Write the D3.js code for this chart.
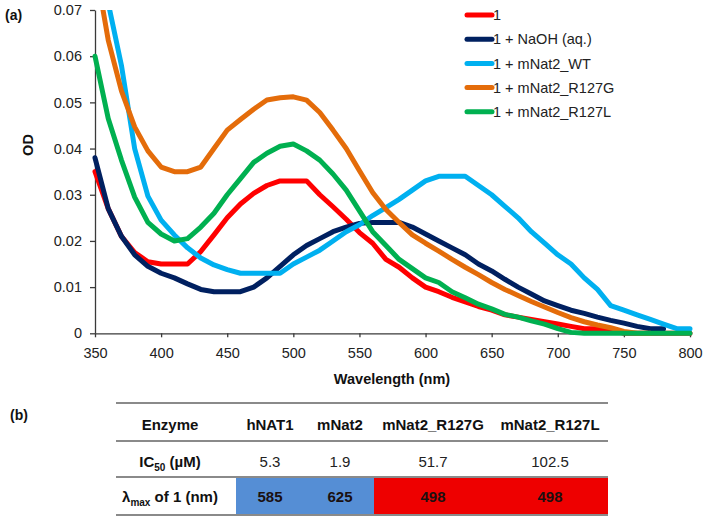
<!DOCTYPE html>
<html><head><meta charset="utf-8">
<script src="https://cdn.jsdelivr.net/npm/d3@7/dist/d3.min.js"></script>
<style>
html,body{margin:0;padding:0;background:#fff;}
svg{display:block;font-family:Arial,"Liberation Sans",sans-serif;}
</style></head>
<body>
<svg id="chart" width="706" height="521"></svg>
<script>
// ---------- data ----------
const wavelengths = [350,360,370,380,390,400,410,420,430,440,450,460,470,480,490,500,510,520,530,540,550,560,570,580,590,600,610,620,630,640,650,660,670,680,690,700,710,720,730,740,750,760,770,780,790,800];
const seriesNames = ["1","1 + NaOH (aq.)","1 + mNat2_WT","1 + mNat2_R127G","1 + mNat2_R127L"];
const seriesColors = ["#ff0000","#002060","#00b0f0","#e46c0a","#00b050"];
const odCompound = [0.035,0.027,0.021,0.0175,0.0155,0.015,0.015,0.015,0.0177,0.0213,0.025,0.028,0.0303,0.032,0.033,0.033,0.033,0.030,0.0274,0.0247,0.0218,0.0195,0.016,0.0143,0.012,0.010,0.009,0.0078,0.0068,0.0058,0.005,0.004,0.0035,0.003,0.0025,0.002,0.0015,0.001,0.001,0.001,0,0,0,0,0,0];
const odNaOH = [0.038,0.027,0.021,0.017,0.0145,0.013,0.012,0.0107,0.0095,0.009,0.009,0.009,0.010,0.012,0.0145,0.017,0.019,0.0205,0.022,0.023,0.0238,0.024,0.024,0.024,0.023,0.0215,0.020,0.0185,0.017,0.015,0.0135,0.0117,0.010,0.0085,0.007,0.006,0.005,0.0043,0.0035,0.0028,0.0022,0.0015,0.001,0.001,null,null];
const odWT = [0.086,0.0715,0.058,0.040,0.0297,0.0245,0.0213,0.0185,0.0163,0.0148,0.0138,0.013,0.013,0.013,0.013,0.015,0.0165,0.018,0.020,0.022,0.0235,0.0255,0.0272,0.029,0.031,0.033,0.034,0.034,0.034,0.032,0.030,0.0275,0.025,0.022,0.0195,0.017,0.015,0.012,0.0095,0.006,0.005,0.004,0.003,0.002,0.001,0.001];
const odR127G = [0.080,0.0635,0.0525,0.0447,0.0395,0.036,0.035,0.035,0.036,0.040,0.044,0.0463,0.0485,0.0505,0.051,0.0512,0.0505,0.0478,0.044,0.040,0.0352,0.0305,0.0268,0.024,0.0213,0.0195,0.0178,0.016,0.0143,0.0127,0.011,0.0095,0.0082,0.0069,0.0057,0.0045,0.0034,0.0025,0.0018,0.0012,0.0004,0,0,null,null,null];
const odR127L = [0.060,0.0465,0.0375,0.0295,0.024,0.0215,0.020,0.0205,0.023,0.026,0.030,0.0335,0.037,0.039,0.0405,0.041,0.0395,0.0375,0.0345,0.031,0.0265,0.022,0.019,0.016,0.014,0.012,0.011,0.009,0.0077,0.0063,0.0053,0.0041,0.0035,0.0027,0.002,0.001,0.0002,0,0,0,0,0,0,0,0,0];
const seriesValues = [odCompound, odNaOH, odWT, odR127G, odR127L];
const xTicks = [350,400,450,500,550,600,650,700,750,800];
const yTicks = [0,0.01,0.02,0.03,0.04,0.05,0.06,0.07];

// table data
const tableEnzymes = ["hNAT1","mNat2","mNat2_R127G","mNat2_R127L"];
const tableIC50 = ["5.3","1.9","51.7","102.5"];
const tableLambdaMax = [585,625,498,498];
const tableCellColors = ["#558ed5","#558ed5","#ee0000","#ee0000"];

// ---------- chart ----------
const svg = d3.select("#chart");
const FONT = 14.5;
const x = d3.scaleLinear().domain([350,800]).range([95,690]);
const y = d3.scaleLinear().domain([0,0.07]).range([333.3,10]);

svg.append("text").attr("x",5).attr("y",20).attr("font-size",14).attr("font-weight","bold").attr("fill","#111").text("(a)");

const yAxis = svg.append("g").attr("transform","translate(95,0)")
  .call(d3.axisLeft(y).tickValues(yTicks).tickSize(5).tickSizeOuter(0).tickPadding(8)
    .tickFormat(d => d === 0 ? "0" : d3.format(".2f")(d)));
const xAxis = svg.append("g").attr("transform","translate(0,333.3)")
  .call(d3.axisBottom(x).tickValues(xTicks).tickSize(4).tickSizeOuter(0).tickPadding(10).tickFormat(d3.format("d")));
[xAxis,yAxis].forEach(g => {
  g.select(".domain").attr("stroke","#3a3a3a").attr("stroke-width",1.3);
  g.selectAll(".tick line").attr("stroke","#3a3a3a").attr("stroke-width",1.3);
  g.selectAll(".tick text").attr("font-size",FONT).attr("fill","#222").attr("font-family","Arial,'Liberation Sans',sans-serif");
});

svg.append("text").attr("transform","translate(33,145) rotate(-90)").attr("text-anchor","middle")
  .attr("font-size",FONT).attr("font-weight","bold").attr("fill","#111").text("OD");
svg.append("text").attr("x",392).attr("y",384).attr("text-anchor","middle")
  .attr("font-size",FONT).attr("font-weight","bold").attr("fill","#111").text("Wavelength (nm)");

svg.append("defs").append("clipPath").attr("id","plotclip")
  .append("rect").attr("x",88).attr("y",10).attr("width",615).attr("height",335);

const line = d3.line()
  .defined(d => d.v !== null)
  .x(d => x(d.w)).y(d => y(d.v));

const plot = svg.append("g").attr("clip-path","url(#plotclip)");
seriesValues.forEach((vals,i) => {
  const pts = wavelengths.map((w,j) => ({w, v: vals[j]}));
  plot.append("path").datum(pts).attr("d",line)
    .attr("fill","none").attr("stroke",seriesColors[i]).attr("stroke-width",5)
    .attr("stroke-linejoin","round").attr("stroke-linecap","round");
});

// legend
const legend = svg.append("g");
seriesNames.forEach((n,i) => {
  const cy = 15 + i*24.2;
  legend.append("line").attr("x1",467).attr("x2",492).attr("y1",cy).attr("y2",cy)
    .attr("stroke",seriesColors[i]).attr("stroke-width",5).attr("stroke-linecap","round");
  legend.append("text").attr("x",493).attr("y",cy).attr("dy","0.36em")
    .attr("font-size",FONT).attr("fill","#222").text(n);
});

// ---------- table ----------
svg.append("text").attr("x",10).attr("y",420).attr("font-size",14).attr("font-weight","bold").attr("fill","#111").text("(b)");
const colEdges = [116,236,305,374,492,608];
const colCenters = [170,270,340,433,550];
const rowLines = [403,441,477,515];
const rowCenters = [425,461.5,497];
const tbl = svg.append("g");
const TF = 15;

// colored cells
tableLambdaMax.forEach((v,i) => {
  tbl.append("rect").attr("x",colEdges[i+1]).attr("y",rowLines[2])
    .attr("width",colEdges[i+2]-colEdges[i+1]).attr("height",rowLines[3]-rowLines[2])
    .attr("fill",tableCellColors[i]);
});
rowLines.forEach(yy => {
  tbl.append("line").attr("x1",colEdges[0]).attr("x2",colEdges[5]).attr("y1",yy).attr("y2",yy)
    .attr("stroke","#8a8a8a").attr("stroke-width",2);
});
// header
tbl.append("text").attr("x",colCenters[0]).attr("y",rowCenters[0]).attr("dy","0.36em")
  .attr("text-anchor","middle").attr("font-size",TF).attr("font-weight","bold").attr("fill","#111").text("Enzyme");
tableEnzymes.forEach((e,i) => {
  tbl.append("text").attr("x",colCenters[i+1]).attr("y",rowCenters[0]).attr("dy","0.36em")
    .attr("text-anchor","middle").attr("font-size",TF).attr("font-weight","bold").attr("fill","#111").text(e);
});
// IC50 row
const ic = tbl.append("text").attr("x",colCenters[0]).attr("y",rowCenters[1]).attr("dy","0.36em")
  .attr("text-anchor","middle").attr("font-size",TF).attr("font-weight","bold").attr("fill","#111");
ic.append("tspan").text("IC");
ic.append("tspan").attr("font-size",10).attr("dy",4).text("50");
ic.append("tspan").attr("dy",-4).text(" (µM)");
tableIC50.forEach((v,i) => {
  tbl.append("text").attr("x",colCenters[i+1]).attr("y",rowCenters[1]).attr("dy","0.36em")
    .attr("text-anchor","middle").attr("font-size",TF).attr("fill","#222").text(v);
});
// lambda max row
const lm = tbl.append("text").attr("x",colCenters[0]).attr("y",rowCenters[2]).attr("dy","0.36em")
  .attr("text-anchor","middle").attr("font-size",TF).attr("font-weight","bold").attr("fill","#111");
lm.append("tspan").text("λ");
lm.append("tspan").attr("font-size",10).attr("dy",4).text("max");
lm.append("tspan").attr("dy",-4).text(" of 1 (nm)");
tableLambdaMax.forEach((v,i) => {
  tbl.append("text").attr("x",colCenters[i+1]).attr("y",rowCenters[2]).attr("dy","0.36em")
    .attr("text-anchor","middle").attr("font-size",TF).attr("font-weight","bold").attr("fill","#1a1010").text(v);
});
</script>
</body></html>
